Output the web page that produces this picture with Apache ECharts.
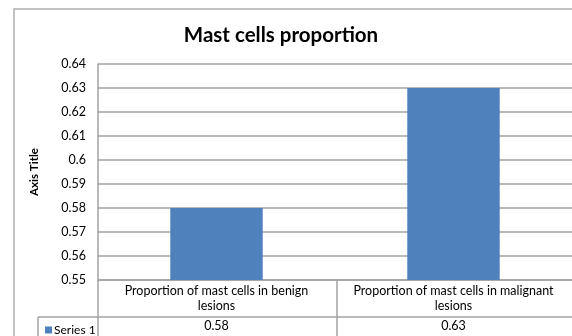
<!DOCTYPE html>
<html>
<head>
<meta charset="utf-8">
<script src="https://cdn.jsdelivr.net/npm/echarts@6/dist/echarts.min.js"></script>
<style>
  html, body { margin: 0; padding: 0; background: #fff; }
  #chart { width: 572px; height: 336px; }
</style>
</head>
<body>
<div id="chart"></div>
<script>
// chart data
var categories = [
  'Proportion of mast cells in benign\nlesions',
  'Proportion of mast cells in malignant\nlesions'
];
var seriesName = 'Series 1';
var values = [0.58, 0.63];
var yMin = 0.55;
var yMax = 0.64;
var yStep = 0.01;

var gridColor = '#a3a3a3';
var font = 'Lato';
var plotLeft = 98, plotTop = 64, plotWidth = 478, plotHeight = 216;
var tableTop = plotTop + plotHeight;
var rowY = tableTop + 37;

var chart = echarts.init(document.getElementById('chart'));

chart.setOption({
  animation: false,
  textStyle: { fontFamily: font },
  title: {
    text: 'Mast cells proportion',
    left: 276,
    top: 20,
    textAlign: 'center',
    textStyle: { fontSize: 20.5, fontWeight: 'bold', color: '#000', fontFamily: font }
  },
  legend: {
    data: [seriesName],
    left: 40,
    top: 319,
    icon: 'rect',
    itemWidth: 7,
    itemHeight: 7,
    itemGap: 4,
    textStyle: { fontSize: 12, color: '#000', padding: [0, 0, 0, -3] }
  },
  grid: { left: plotLeft, top: plotTop, width: plotWidth, height: plotHeight },
  xAxis: [
    {
      type: 'category',
      data: categories,
      axisLine: { show: true, lineStyle: { color: gridColor, width: 1.5 } },
      axisTick: { show: false },
      axisLabel: { interval: 0, margin: 3, fontSize: 12.5, lineHeight: 15, color: '#000' }
    },
    {
      type: 'category',
      position: 'bottom',
      offset: 37,
      data: values.map(function (v) { return v.toString(); }),
      axisLine: { show: false },
      axisTick: { show: false },
      axisLabel: { interval: 0, margin: 2, fontSize: 12.5, color: '#000' }
    }
  ],
  yAxis: {
    type: 'value',
    min: yMin,
    max: yMax,
    interval: yStep,
    name: 'Axis Title',
    nameLocation: 'middle',
    nameGap: 58,
    nameTextStyle: { fontSize: 11.5, fontWeight: 'bold', color: '#000' },
    axisLine: { show: true, lineStyle: { color: gridColor, width: 1.5 } },
    axisTick: { show: false },
    axisLabel: { fontSize: 12.5, color: '#000', margin: 12 },
    splitLine: { lineStyle: { color: gridColor, width: 1.5 } }
  },
  series: [
    {
      name: seriesName,
      type: 'bar',
      data: values,
      barWidth: '39%',
      itemStyle: { color: '#4f81bd' }
    }
  ],
  graphic: [
    // chart frame
    { type: 'rect', shape: { x: 14, y: 9, width: 600, height: 400 },
      style: { fill: null, stroke: '#b0b0b0', lineWidth: 1.5 }, z: -1 },
    // data table lines
    { type: 'line', shape: { x1: 38, y1: rowY, x2: 576, y2: rowY },
      style: { stroke: gridColor, lineWidth: 1.5 } },
    { type: 'line', shape: { x1: 38, y1: rowY, x2: 38, y2: 340 },
      style: { stroke: gridColor, lineWidth: 1.5 } },
    { type: 'line', shape: { x1: plotLeft, y1: tableTop, x2: plotLeft, y2: 340 },
      style: { stroke: gridColor, lineWidth: 1.5 } },
    { type: 'line', shape: { x1: plotLeft + plotWidth / 2, y1: tableTop, x2: plotLeft + plotWidth / 2, y2: 340 },
      style: { stroke: gridColor, lineWidth: 1.5 } }
  ]
});
</script>
</body>
</html>
